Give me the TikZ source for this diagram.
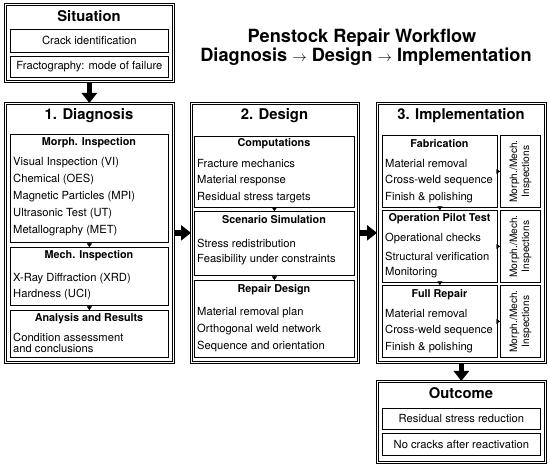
\documentclass[tikz,border=0pt]{standalone}
\usepackage{fontspec}
\setmainfont{TeX Gyre Heros}
\usetikzlibrary{arrows.meta}
\newcommand{\hdarrow}{\raisebox{0.8pt}{\fontsize{15}{15}\selectfont$\rightarrow$}}
\begin{document}
\begin{tikzpicture}[x=1pt,y=-1pt,
 outer/.style={draw, double, double distance=1.2pt, line width=0.7pt, inner sep=0pt, anchor=north west},
 inbox/.style={draw, line width=0.8pt, inner sep=0pt, anchor=north west, font=\fontsize{11.2}{13}\selectfont},
 ttl/.style={font=\bfseries\fontsize{14.8}{17}\selectfont, inner sep=0pt},
 sub/.style={font=\bfseries\fontsize{10.8}{13}\selectfont, inner sep=0pt},
 item/.style={font=\fontsize{11.2}{13}\selectfont, anchor=west, inner sep=0pt},
 side/.style={rotate=90, align=center, font=\fontsize{10.2}{12}\selectfont, inner sep=0pt},
 hd/.style={font=\bfseries\fontsize{18.2}{20}\selectfont, anchor=base, inner sep=0pt},
 big/.style={-{Triangle[width=15pt,length=10pt]}, line width=5.5pt},
 tiny/.style={-{Triangle[width=5pt,length=3.5pt]}, line width=0.4pt}]
\useasboundingbox (0,0) rectangle (550,465);

% Header
\node[hd] (head1) at (362,43) {Penstock Repair Workflow};
\node[hd] (head2) at (366,62) {Diagnosis \hdarrow{} Design \hdarrow{} Implementation};

% Situation
\node[outer, minimum width=168pt, minimum height=77pt] (sit) at (5,4) {};
\node[ttl] (sitT) at (89,16) {Situation};
\node[inbox, minimum width=158pt, minimum height=23pt] (sitA) at (10,29) {Crack identification};
\node[inbox, minimum width=158pt, minimum height=21pt] (sitB) at (10,56) {Fractography: mode of failure};

% Diagnosis
\node[outer, minimum width=168pt, minimum height=259pt] (diag) at (5,103) {};
\node[ttl] (diagT) at (89,116) {1. Diagnosis};
\node[inbox, minimum width=158pt, minimum height=108pt] (morph) at (10,134) {};
\node[sub] (morphT) at (89,143) {Morph. Inspection};
\node[item] (d1) at (13,163) {Visual Inspection (VI)};
\node[item] (d2) at (13,180) {Chemical (OES)};
\node[item] (d3) at (13,197) {Magnetic Particles (MPI)};
\node[item] (d4) at (13,214) {Ultrasonic Test (UT)};
\node[item] (d5) at (13,231) {Metallography (MET)};
\node[inbox, minimum width=158pt, minimum height=58pt] (mech) at (10,247) {};
\node[sub] (mechT) at (89,256) {Mech. Inspection};
\node[item] (d6) at (13,279) {X-Ray Diffraction (XRD)};
\node[item] (d7) at (13,295) {Hardness (UCI)};
\node[inbox, minimum width=158pt, minimum height=47pt] (anal) at (10,310) {};
\node[sub] (analT) at (89,319) {Analysis and Results};
\node[item] (d8) at (13,337) {Condition assessment};
\node[item] (d9) at (13,349) {and conclusions};
\draw[tiny] (morph.south) -- (mech.north);
\draw[tiny] (mech.south) -- (anal.north);

% Design
\node[outer, minimum width=167pt, minimum height=259pt] (des) at (191,103) {};
\node[ttl] (desT) at (274.5,116) {2. Design};
\node[inbox, minimum width=160pt, minimum height=71pt] (comp) at (194,136) {};
\node[sub] (compT) at (274,144) {Computations};
\node[item] (e1) at (197,164) {Fracture mechanics};
\node[item] (e2) at (197,181) {Material response};
\node[item] (e3) at (197,198) {Residual stress targets};
\node[inbox, minimum width=160pt, minimum height=64pt] (scen) at (194,211) {};
\node[sub] (scenT) at (274,220) {Scenario Simulation};
\node[item] (e4) at (197,243) {Stress redistribution};
\node[item] (e5) at (197,260) {Feasibility under constraints};
\node[inbox, minimum width=160pt, minimum height=77pt] (rep) at (194,280) {};
\node[sub] (repT) at (274,290) {Repair Design};
\node[item] (e6) at (197,313) {Material removal plan};
\node[item] (e7) at (197,330) {Orthogonal weld network};
\node[item] (e8) at (197,347) {Sequence and orientation};
\draw[tiny] (comp.south) -- (scen.north);
\draw[tiny] (scen.south) -- (rep.north);

% Implementation
\node[outer, minimum width=168pt, minimum height=259pt] (imp) at (377,103) {};
\node[ttl] (impT) at (461,116) {3. Implementation};
\node[inbox, minimum width=115pt, minimum height=72pt] (fab) at (382,135) {};
\node[sub] (fabT) at (439.5,144) {Fabrication};
\node[item] (f1) at (385,164) {Material removal};
\node[item] (f2) at (385,181) {Cross-weld sequence};
\node[item] (f3) at (385,198) {Finish \& polishing};
\node[inbox, minimum width=40pt, minimum height=72pt] (s1) at (500,135) {};
\node[side] (s1T) at (s1.center) {Morph./Mech.\\Inspections};
\node[inbox, minimum width=115pt, minimum height=72pt] (pil) at (382,210) {};
\node[sub] (pilT) at (439.5,219) {Operation Pilot Test};
\node[item] (f4) at (385,239) {Operational checks};
\node[item] (f5) at (385,256) {Structural verification};
\node[item] (f6) at (385,273) {Monitoring};
\node[inbox, minimum width=40pt, minimum height=72pt] (s2) at (500,210) {};
\node[side] (s2T) at (s2.center) {Morph./Mech.\\Inspections};
\node[inbox, minimum width=115pt, minimum height=72pt] (full) at (382,285) {};
\node[sub] (fullT) at (439.5,295) {Full Repair};
\node[item] (f7) at (385,314) {Material removal};
\node[item] (f8) at (385,331) {Cross-weld sequence};
\node[item] (f9) at (385,348) {Finish \& polishing};
\node[inbox, minimum width=40pt, minimum height=72pt] (s3) at (500,285) {};
\node[side] (s3T) at (s3.center) {Morph./Mech.\\Inspections};
\draw[tiny] (fab.south) -- (pil.north);
\draw[tiny] (pil.south) -- (full.north);
\draw[tiny] (fab.east) -- (s1.west);
\draw[tiny] (pil.east) -- (s2.west);
\draw[tiny] (full.east) -- (s3.west);

% Outcome
\node[outer, minimum width=168pt, minimum height=81pt] (out) at (377,381) {};
\node[ttl] (outT) at (461,393) {Outcome};
\node[inbox, minimum width=158pt, minimum height=21pt] (o1) at (382,408) {Residual stress reduction};
\node[inbox, minimum width=158pt, minimum height=22pt] (o2) at (382,433) {No cracks after reactivation};

% Big arrows
\draw[big] (sit.south) -- (diag.north);
\draw[big] (diag.east) -- (des.west);
\draw[big] (des.east) -- (imp.west);
\draw[big] (imp.south) -- (out.north);
\end{tikzpicture}
\end{document}
